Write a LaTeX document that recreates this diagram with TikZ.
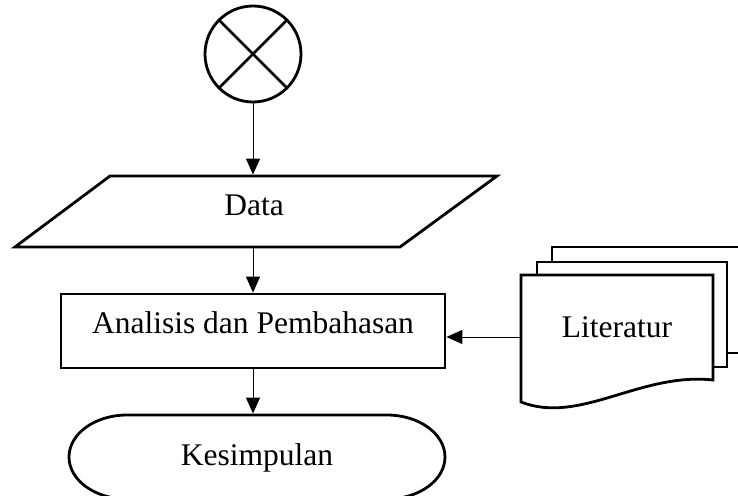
\documentclass[tikz,border=0pt]{standalone}
\usepackage{fontspec}
\setmainfont{Liberation Serif}
\usetikzlibrary{arrows.meta}
\begin{document}
\begin{tikzpicture}[x=1pt,y=1pt,
  shp/.style={draw, line width=2.8pt},
  conn/.style={line width=1pt, -{Triangle[length=16pt,width=14pt]}},
  txt/.style={font=\fontsize{31.5}{38}\selectfont, inner sep=0pt, outer sep=1.4pt}]
\useasboundingbox (0,0) rectangle (738,-495);

% start connector
\node[shp, circle, minimum size=96pt, inner sep=0pt, outer sep=0pt] (start) at (253,-54) {};
\draw[shp] (start.45) -- (start.225) (start.135) -- (start.315);

% data (parallelogram)
\draw[shp, line join=miter] (110,-176) -- (497,-176) -- (400,-247) -- (15,-247) -- cycle;
\node[txt, minimum height=71pt, text height=14pt, text depth=7pt] (data) at (254,-211.5) {Data};

% process
\node[shp, txt, minimum width=384pt, minimum height=74pt, text height=14pt, text depth=10pt] (ana) at (253,-331) {Analisis dan Pembahasan};

% terminal
\draw[shp] (127,-415) -- (387,-415) arc[start angle=90, end angle=-90, x radius=58, y radius=42]
  -- (127,-499) arc[start angle=270, end angle=90, x radius=58, y radius=42] -- cycle;
\node[txt, minimum width=376pt, minimum height=84pt, text height=24pt, text depth=8pt] (kes) at (257,-457) {Kesimpulan};

% multi-document
\draw[shp, fill=white] (552,-247) rectangle (760,-353);
\draw[shp, fill=white] (537,-262) rectangle (727,-367);
\draw[shp, fill=white, line join=miter] (521,-275) -- (713,-275) -- (713,-380)
  .. controls (640,-372) and (580,-425) .. (521,-402) -- cycle;
\node[txt, minimum width=192pt, text height=12pt, text depth=12pt] (lit) at (617,-337) {Literatur};

% connectors
\draw[conn] (start.south) -- (start.south |- data.north);
\draw[conn] (ana.north |- data.south) -- (ana.north);
\draw[conn] (ana.south) -- (ana.south |- kes.north);
\draw[conn] (lit.west) -- (lit.west -| ana.east);
\end{tikzpicture}
\end{document}
